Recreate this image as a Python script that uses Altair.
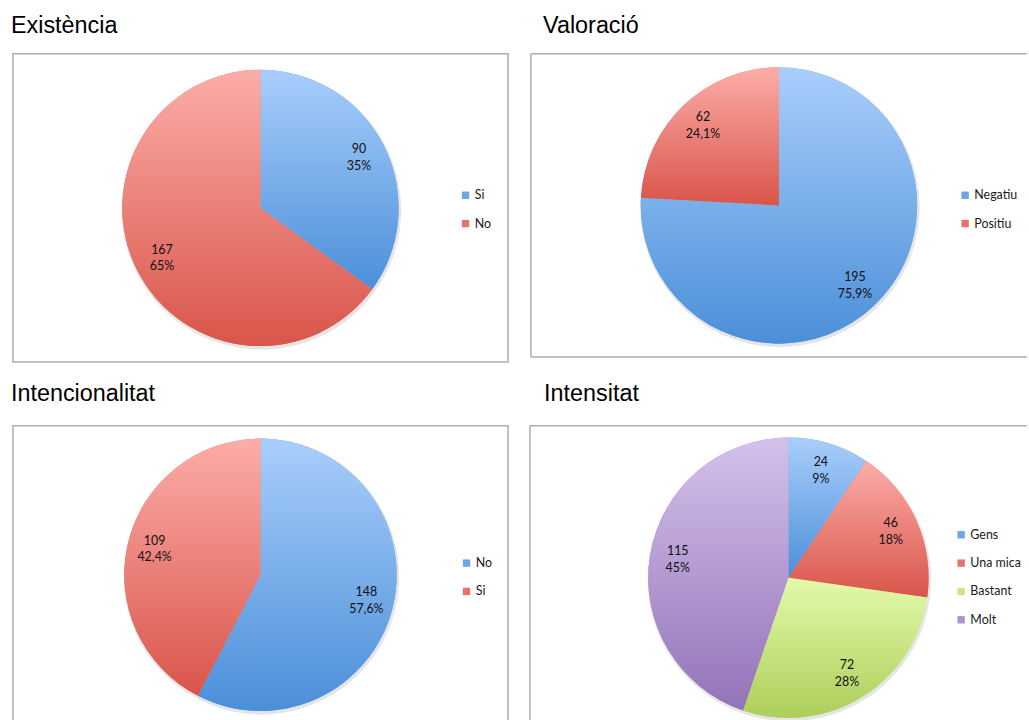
import altair as alt
import pandas as pd

# ---- data ----
exist_cats = ["Si", "No"]
exist_vals = [90, 167]
exist_pct = ["35%", "65%"]

val_cats = ["Negatiu", "Positiu"]
val_vals = [195, 62]
val_pct = ["75,9%", "24,1%"]

intc_cats = ["No", "Si"]
intc_vals = [148, 109]
intc_pct = ["57,6%", "42,4%"]

inten_cats = ["Gens", "Una mica", "Bastant", "Molt"]
inten_vals = [24, 46, 72, 115]
inten_pct = ["9%", "18%", "28%", "45%"]

# ---- styling ----
BLUE = ("#a9cefc", "#4b8fd8", "#6aa6e8")
RED = ("#fcada8", "#d9554a", "#e8726b")
GREEN = ("#e3faab", "#adce5a", "#c8e688")
PURPLE = ("#d4c1eb", "#9373b8", "#ad91cd")
FRAME = "#adadad"

LABEL_FONT = "Lato"
TITLE_FONT = "Liberation Sans"


def grad(top, bottom):
    return {
        "gradient": "linear",
        "x1": 0, "y1": 0, "x2": 0, "y2": 1,
        "stops": [{"offset": 0, "color": top}, {"offset": 1, "color": bottom}],
    }


def pie(title, cats, vals, pcts, palette, w, h, R, lx, ly, tdx, toff,
        xoff=0, open_right=False):
    df = pd.DataFrame({
        "cat": cats,
        "val": vals,
        "label": [f"{v}\n{p}" for v, p in zip(vals, pcts)],
        "ord": list(range(len(cats))),
    })
    total = sum(vals)
    theta_scale = alt.Scale(domain=[0, total], range=[0, 6.283185307179586])
    base = alt.Chart(df).transform_stack(
        stack="val", groupby=[], as_=["start", "end"], sort=[alt.SortField("ord")]
    ).transform_calculate(mid="(datum.start + datum.end) / 2")
    th = alt.Theta("start:Q", scale=theta_scale, stack=None)

    legend = alt.Legend(
        orient="none", legendX=lx, legendY=ly, title=None,
        symbolType="square", symbolSize=55, symbolStrokeWidth=0,
        labelFont=LABEL_FONT, labelFontSize=12.5, labelColor="#1a1a1a",
        rowPadding=15.5, labelOffset=3, padding=0,
    )
    shadow = base.mark_arc(
        outerRadius=R + 1.5, stroke=None, color="#000", opacity=0.10,
        xOffset=xoff + 1, yOffset=2,
    ).encode(theta=th, theta2="end:Q")
    solid = base.mark_arc(outerRadius=R, stroke=None, xOffset=xoff).encode(
        theta=th,
        theta2="end:Q",
        color=alt.Color("cat:N", sort=cats,
                        scale=alt.Scale(domain=cats, range=[p[2] for p in palette]),
                        legend=legend),
    )
    layers = [shadow, solid]
    for c, p in zip(cats, palette):
        layers.append(
            base.transform_filter(alt.datum.cat == c)
            .mark_arc(outerRadius=R, stroke=None, xOffset=xoff)
            .encode(theta=th, theta2="end:Q", fill=alt.value(grad(p[0], p[1])))
        )
    text = base.mark_text(
        radius=R * 0.8, font=LABEL_FONT, fontSize=12.5, color="#111",
        lineBreak="\n", lineHeight=17, baseline="middle", dy=-8.5, xOffset=xoff,
    ).encode(
        theta=alt.Theta("mid:Q", scale=theta_scale, stack=None),
        text="label:N",
    )
    layers.append(text)

    view = alt.ViewBackground(stroke=FRAME, strokeWidth=1.5, fill="white")
    if open_right:
        # frame continues past the right edge of the picture: no right side
        view = alt.ViewBackground(stroke="transparent", fill="white")
        one = alt.Chart(df).transform_filter(alt.datum.ord == 0)
        rule = dict(color=FRAME, strokeWidth=1.5)
        layers.insert(0, one.mark_rule(**rule).encode(
            x=alt.value(0), x2=alt.value(w), y=alt.value(0)))
        layers.insert(0, one.mark_rule(**rule).encode(
            x=alt.value(0), y=alt.value(0), y2=alt.value(h)))
        layers.insert(0, one.mark_rule(**rule).encode(
            x=alt.value(0), x2=alt.value(w), y=alt.value(h)))

    return alt.layer(*layers).properties(
        width=w, height=h,
        view=view,
        title=alt.TitleParams(
            title, anchor="start", font=TITLE_FONT, fontSize=23.5,
            fontWeight="normal", color="#000", dx=tdx, offset=toff,
            baseline="alphabetic",
        ),
    ).resolve_scale(color="shared")


p1 = pie("Existència", exist_cats, exist_vals, exist_pct, [BLUE, RED],
         498, 310, 139, 449, 136, -2, -3)
p2 = pie("Valoració", val_cats, val_vals, val_pct, [BLUE, RED],
         499, 305, 139, 430.5, 136, 13, -3, open_right=True)
p3 = pie("Intencionalitat", intc_cats, intc_vals, intc_pct, [BLUE, RED],
         498, 300, 137, 450, 132, -2, 1)
p4 = pie("Intensitat", inten_cats, inten_vals, inten_pct,
         [BLUE, RED, GREEN, PURPLE], 500, 306, 141, 427.5, 103.5, 15, 1,
         xoff=10, open_right=True)

row1 = alt.hconcat(p1, p2, spacing=20).resolve_scale(color="independent", theta="independent")
row2 = alt.hconcat(p3, p4, spacing=19).resolve_scale(color="independent", theta="independent")

chart = alt.vconcat(row1, row2, spacing=18).resolve_scale(
    color="independent", theta="independent"
).properties(
    padding={"left": 10, "top": 11, "right": 0, "bottom": 0},
    background="white",
).configure_view(
    stroke=FRAME, strokeWidth=1.5
)

chart.save("out.html", embed_options={"renderer": "svg", "actions": False})
